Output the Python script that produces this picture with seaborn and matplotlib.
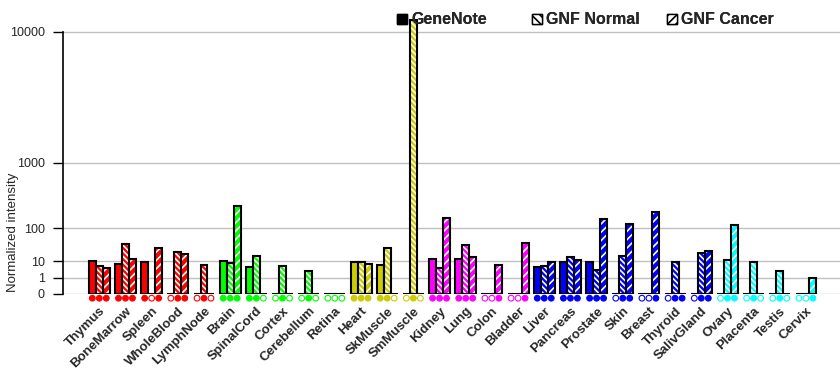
import numpy as np
import pandas as pd
import matplotlib
matplotlib.use("Agg")
import matplotlib.pyplot as plt
from matplotlib.patches import Patch, Rectangle
import seaborn as sns

# tissues and their organ systems
tissues = ['Thymus', 'BoneMarrow', 'Spleen', 'WholeBlood', 'LymphNode',
           'Brain', 'SpinalCord', 'Cortex', 'Cerebellum', 'Retina',
           'Heart', 'SkMuscle', 'SmMuscle',
           'Kidney', 'Lung', 'Colon', 'Bladder',
           'Liver', 'Pancreas', 'Prostate', 'Skin', 'Breast', 'Thyroid', 'SalivGland',
           'Ovary', 'Placenta', 'Testis', 'Cervix']
systems = ['blood', 'blood', 'blood', 'blood', 'blood',
           'nerve', 'nerve', 'nerve', 'nerve', 'nerve',
           'muscle', 'muscle', 'muscle',
           'organ', 'organ', 'organ', 'organ',
           'gland', 'gland', 'gland', 'gland', 'gland', 'gland', 'gland',
           'repro', 'repro', 'repro', 'repro']

# normalized intensity per data set
genenote = [10.5, 7.2, 9.2, 0, 0, 10.5, 5.4, 0, 0, 0, 9.2, 6.9, 0,
            12.0, 12.0, 0, 0, 5.0, 9.2, 8.9, 0, 0, 0, 0, 0, 0, 0, 0]
gnf_normal = [5.7, 39.7, 0, 22.2, 6.4, 8.6, 16.7, 6.1, 3.2, 0, 9.0, 31.4, 11500,
              4.8, 37.0, 0, 0, 5.7, 15.3, 3.4, 16.7, 0, 9.2, 20.4, 11.6, 9.2, 3.2, 0]
gnf_cancer = [4.8, 12.7, 31.4, 18.8, 0, 262, 0, 0, 0, 0, 7.7, 0, 0,
              165, 14.5, 6.4, 42.3, 8.9, 11.6, 157, 125, 212, 0, 24.0, 116, 0, 0, 0.86]

# presence calls (filled / hollow dots under the bars)
genenote_call = [1, 1, 1, 0, 0, 1, 1, 0, 0, 0, 1, 1, 0, 1, 1, 0, 0,
                 1, 1, 1, 0, 0, 0, 0, 0, 0, 0, 0]
normal_call = [1, 1, 0, 1, 1, 1, 1, 1, 1, 0, 1, 1, 1, 1, 1, 0, 0,
               1, 1, 1, 1, 0, 1, 1, 1, 1, 1, 0]
cancer_call = [1, 1, 1, 1, 0, 1, 0, 0, 0, 0, 1, 0, 0, 1, 1, 1, 1,
               1, 1, 1, 1, 1, 1, 1, 1, 0, 0, 1]

series = ['GeneNote', 'GNF Normal', 'GNF Cancer']
y_ticks = [0, 1, 10, 100, 1000, 10000]

system_colors = {'blood': '#ff0000', 'nerve': '#00ff00', 'muscle': '#cccc00',
                 'organ': '#ff00ff', 'gland': '#0000ff', 'repro': '#00ffff'}
hatches = {'GeneNote': '', 'GNF Normal': '\\\\\\\\\\\\', 'GNF Cancer': '////'}

df = pd.DataFrame({
    'tissue': tissues * 3,
    'series': np.repeat(series, len(tissues)),
    'value': genenote + gnf_normal + gnf_cancer,
})
calls = {'GeneNote': genenote_call, 'GNF Normal': normal_call, 'GNF Cancer': cancer_call}

sns.set_style('white')
plt.rcParams['font.family'] = ['Liberation Sans', 'DejaVu Sans']
plt.rcParams['hatch.linewidth'] = 1.2

fig = plt.figure(figsize=(8.4, 3.85), dpi=100)
ax = fig.add_axes([63 / 840, 1 - 294 / 385, 777 / 840, 279 / 385])

sns.barplot(data=df, x='tissue', y='value', hue='series', order=tissues,
            hue_order=series, palette=['black'] * 3, width=0.8,
            legend=False, errorbar=None, ax=ax)

# power scale: every decade takes twice the height of the one below
expo = np.log10(2)
ax.set_yscale('function', functions=(lambda v: np.power(np.clip(v, 0, None), expo),
                                     lambda v: np.power(np.clip(v, 0, None), 1 / expo)))
ax.set_ylim(0, 12260)
ax.set_xlim(-1.387, 28.30)

for s, cont in zip(series, ax.containers):
    xs = []
    for j, p in enumerate(cont.patches):
        col = system_colors[systems[j]]
        p.set_facecolor(col)
        p.set_linewidth(0)
        xy, w, h = p.get_xy(), p.get_width(), p.get_height()
        if hatches[s]:
            # white hatch layer on top of the coloured bar
            ax.add_patch(Rectangle(xy, w, h, facecolor=col, edgecolor='white',
                                   lw=0, hatch=hatches[s], zorder=2.5))
        ax.add_patch(Rectangle(xy, w, h, fill=False, edgecolor='black',
                               lw=1.5, zorder=3))
        xs.append(p.get_x() + w / 2)
    cols = [system_colors[g] for g in systems]
    faces = [c if k else 'white' for c, k in zip(cols, calls[s])]
    ax.scatter(xs, [-0.015] * len(xs), s=17, c=faces, edgecolors=cols,
               linewidths=0.8, transform=ax.get_xaxis_transform(),
               clip_on=False, zorder=4)

ax.set_yticks(y_ticks)
ax.set_yticklabels([str(t) for t in y_ticks], fontsize=9)
ax.yaxis.grid(True, color='#c0c0c0', lw=1)
ax.set_axisbelow(True)
ax.tick_params(axis='y', length=7, width=1, color='black', pad=6, left=True)
ax.tick_params(axis='x', length=0, pad=8)
ax.set_xticks(range(len(tissues)))
ax.set_xticklabels(tissues, rotation=45, ha='right', rotation_mode='anchor',
                   fontsize=9.5, fontweight='bold')
ax.set_xlabel('')
ax.set_ylabel('Normalized intensity', fontsize=9.5)
ax.yaxis.set_label_coords(-0.0566, 0.222)
for side in ['top', 'right', 'bottom']:
    ax.spines[side].set_visible(False)
ax.spines['left'].set_color('black')
ax.spines['left'].set_linewidth(1.2)
ax.spines['left'].set_bounds(0, 10000)

# legend: one entry per fixed-width slot, like the original
handles = [Patch(facecolor='black', edgecolor='black', label='GeneNote'),
           Patch(facecolor='white', edgecolor='black', hatch='\\\\\\\\', label='GNF Normal'),
           Patch(facecolor='white', edgecolor='black', hatch='////', label='GNF Cancer')]
for h, x0 in zip(handles, [397, 532, 667]):
    leg = fig.legend(handles=[h], loc='center left', bbox_to_anchor=(x0 / 840, 1 - 20 / 385),
                     frameon=False, prop={'size': 11.5, 'weight': 'bold'},
                     handlelength=0.65, handleheight=0.65, handletextpad=0.25,
                     borderpad=0, borderaxespad=0)
    fig.add_artist(leg)

fig.savefig('out.png', dpi=100)
